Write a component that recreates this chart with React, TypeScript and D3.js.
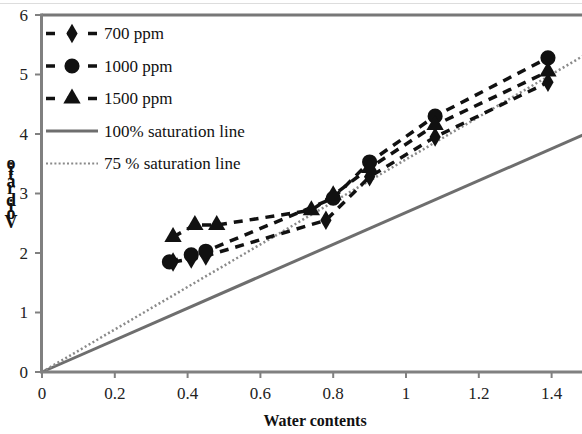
import React from "react";
import * as d3 from "d3";

const W = 582, H = 434;
const xTicks = [0, 0.2, 0.4, 0.6, 0.8, 1, 1.2, 1.4];
const yTicks = [0, 1, 2, 3, 4, 5, 6];

const w700 = [0.36, 0.41, 0.45, 0.78, 0.9, 1.08, 1.39];
const e700 = [1.85, 1.9, 1.95, 2.55, 3.28, 3.95, 4.87];
const w1000 = [0.35, 0.41, 0.45, 0.8, 0.9, 1.08, 1.39];
const e1000 = [1.85, 1.97, 2.03, 2.92, 3.53, 4.3, 5.28];
const w1500 = [0.36, 0.42, 0.48, 0.74, 0.8, 0.9, 1.08, 1.39];
const e1500 = [2.27, 2.47, 2.47, 2.72, 2.97, 3.43, 4.15, 5.05];

const satW = [0, 1.5];
const sat100 = [0, 4.02];
const sat75 = [0, 5.36];

const legendLabels = ["700 ppm", "1000 ppm", "1500 ppm", "100% saturation line", "75 % saturation line"];

const x = d3.scaleLinear().domain([0, 1.4835]).range([42, 582]);
const y = d3.scaleLinear().domain([0, 6]).range([372, 15]);

const line = d3.line<[number, number]>().x(d => x(d[0])).y(d => y(d[1]));

const diamond = d3.symbol().type(d3.symbolDiamond).size(110)()!;
const circle = d3.symbol().type(d3.symbolCircle).size(180)()!;
const triangle = d3.symbol().type(d3.symbolTriangle).size(130)()!;

const series = [
  { w: w700, e: e700, sym: diamond },
  { w: w1000, e: e1000, sym: circle },
  { w: w1500, e: e1500, sym: triangle },
];

// y-axis title, letters stacked upright from the bottom
const yLabelChars = "Void ratio".split("");
const charAdv: Record<string, number> = { V: 10.5, o: 8.5, i: 4.8, d: 8.5, " ": 3.8, r: 7, a: 7.5, t: 5.3 };
let acc = 0;
const yLabelPos = yLabelChars.map(c => {
  const p = acc + (charAdv[c] ?? 7) / 2;
  acc += charAdv[c] ?? 7;
  return p;
});

const font = "Liberation Serif, Times New Roman, serif";
const ts = { fontFamily: font } as React.CSSProperties;

export default function App() {
  return (
    <svg width={W} height={H} style={{ position: "absolute", left: 0, top: 0, background: "#fff", fontFamily: font }}>
      <line x1={0} x2={W} y1={3.5} y2={3.5} stroke="#ddd" strokeWidth={1} />
      <path d={line(satW.map((w, i) => [w, sat100[i]]) as any)!} stroke="#6e6e6e" strokeWidth={3} fill="none" />
      <path d={line(satW.map((w, i) => [w, sat75[i]]) as any)!} stroke="#8a8a8a" strokeWidth={2.5} strokeDasharray="2,2.5" fill="none" />
      {series.map((s, k) => (
        <g key={k}>
          <path d={line(s.w.map((w, i) => [w, s.e[i]]) as any)!} stroke="#111" strokeWidth={3.5} strokeDasharray="9,7" fill="none" />
          {s.w.map((w, i) => (
            <path key={i} d={s.sym} transform={`translate(${x(w)},${y(s.e[i])})`} fill="#111" />
          ))}
        </g>
      ))}
      <line x1={41.5} x2={W} y1={15} y2={15} stroke="#777" strokeWidth={3} />
      <line x1={41.5} x2={41.5} y1={13.5} y2={y(0)} stroke="#808080" strokeWidth={3} />
      <line x1={40} x2={W} y1={y(0)} y2={y(0)} stroke="#808080" strokeWidth={3} />
      {yTicks.map(t => (
        <g key={t}>
          <line x1={35} x2={41} y1={y(t)} y2={y(t)} stroke="#808080" strokeWidth={2} />
          <text x={28} y={y(t)} dy="0.35em" textAnchor="end" fontSize={17} fill="#222" style={ts}>{t}</text>
        </g>
      ))}
      {xTicks.map(t => (
        <g key={t}>
          <line x1={x(t)} x2={x(t)} y1={y(0)} y2={y(0) + 6} stroke="#808080" strokeWidth={2} />
          <text x={x(t)} y={399} textAnchor="middle" fontSize={17} fill="#222" style={ts}>{t}</text>
        </g>
      ))}
      <text x={315} y={426} textAnchor="middle" fontSize={16} fontWeight="bold" fill="#111" style={ts}>Water  contents</text>
      {yLabelChars.map((c, i) => (
        <text key={i} x={11} y={222 - yLabelPos[i] + yLabelPos[0]} dy="0.35em" textAnchor="middle"
          fontSize={18} fontWeight="bold" fill="#111" style={ts}>{c}</text>
      ))}
      {legendLabels.map((lab, i) => {
        const ly = 33.5 + i * 32.5;
        return (
          <g key={i}>
            {i < 3 && (
              <>
                <line x1={46} x2={98} y1={ly} y2={ly} stroke="#111" strokeWidth={3.5} strokeDasharray="9,12" />
                <path d={series[i].sym} transform={`translate(72,${ly})`} fill="#111" />
              </>
            )}
            {i === 3 && <line x1={46} x2={98} y1={ly} y2={ly} stroke="#6e6e6e" strokeWidth={3} />}
            {i === 4 && <line x1={46} x2={98} y1={ly} y2={ly} stroke="#8a8a8a" strokeWidth={2} strokeDasharray="2,2.2" />}
            <text x={104} y={ly} dy="0.35em" fontSize={17} fill="#111" style={ts}>{lab}</text>
          </g>
        );
      })}
    </svg>
  );
}
